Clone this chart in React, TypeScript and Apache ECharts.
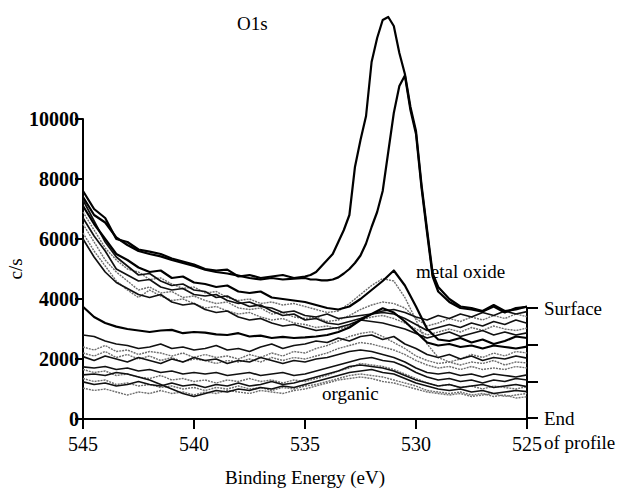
import React, { useEffect, useRef } from 'react';
import * as echarts from 'echarts';

// Binding energies (eV) shared by most spectra, 0.5 eV steps
const energy = [
  545, 544.5, 544, 543.5, 543, 542.5, 542, 541.5, 541, 540.5,
  540, 539.5, 539, 538.5, 538, 537.5, 537, 536.5, 536, 535.5,
  535, 534.5, 534, 533.5, 533, 532.5, 532, 531.5, 531, 530.5,
  530, 529.5, 529, 528.5, 528, 527.5, 527, 526.5, 526, 525.5,
  525,
];

// Finer energy grid for the two surface spectra (sharp metal-oxide peaks)
const surfaceEnergy = [
  545, 544.5, 544, 543.5, 543, 542.5, 542, 541.5, 541, 540.5,
  540, 539.5, 539, 538.5, 538, 537.5, 537, 536.5, 536, 535.5,
  535,
  534.75, 534.5, 534.25, 534, 533.75, 533.5, 533.25, 533, 532.75,
  532.5, 532.25, 532, 531.75, 531.5, 531.25, 531, 530.75, 530.5, 530.25,
  530, 529.75, 529.5, 529.25, 529,
  528.5, 528, 527.5, 527, 526.5, 526, 525.5, 525,
];

const surface1 = [
  7600, 7000, 6700, 6000, 5900, 5650, 5580, 5500, 5350, 5250,
  5150, 5000, 4950, 4980, 4750, 4800, 4700, 4750, 4800, 4700,
  4750,
  4800, 4900, 5100, 5300, 5500, 5900, 6300, 6800, 8400,
  9300, 10100, 11900, 12700, 13300, 13400, 13100, 12200, 11500, 10400,
  9600, 7800, 6300, 4850, 4400,
  4000, 3750, 3700, 3600, 3800, 3600, 3650, 3750,
];

const surface2 = [
  7400, 6800, 6550, 6050, 5800, 5600, 5500, 5420, 5300, 5200,
  5100, 4980, 4900, 4850, 4780, 4700, 4650, 4700, 4650, 4680,
  4700,
  4650, 4650, 4620, 4620, 4650, 4720, 4850, 5000, 5200,
  5450, 5850, 6400, 6900, 7600, 8900, 10200, 11100, 11450, 10300,
  9500, 7700, 6200, 4750, 4250,
  3900, 3700, 3650, 3580, 3750, 3550, 3700, 3740,
];

// Upper group (early sputter steps)
const upper1 = [
  7100, 6500, 6000, 5500, 5300, 5050, 4900, 4950, 4700, 4750,
  4550, 4500, 4400, 4450, 4250, 4200, 4250, 4050, 4000, 3950,
  3900, 3800, 3700, 3650, 3750, 4000, 4300, 4600, 4950, 4450,
  3750, 3000, 2650, 2600, 2700, 2550, 2650, 2500, 2600, 2750,
  2700,
];
const upper2 = [
  6900, 6300, 5700, 5300, 5000, 4900, 4650, 4700, 4500, 4350,
  4400, 4200, 4250, 4050, 3950, 4000, 3850, 3900, 3800, 3850,
  3750, 3650, 3550, 3600, 3850, 4150, 4450, 4680, 4600, 4050,
  3300, 2500, 2050, 1900, 2000, 2150, 2050, 2200, 2100, 2250,
  2200,
];
const upper3 = [
  6700, 6100, 5600, 5000, 4800, 4600, 4650, 4400, 4300, 4350,
  4150, 4100, 4150, 3950, 3850, 3900, 3750, 3700, 3550, 3600,
  3450, 3400, 3500, 3350, 3400, 3450, 3500, 3600, 3650, 3550,
  3400, 3300, 3450, 3350, 3500, 3400, 3550, 3450, 3600, 3500,
  3580,
];
const upper4 = [
  6500, 5900, 5300, 4900, 4600, 4300, 4400, 4200, 4250, 4050,
  4100, 3950, 3850, 3900, 3700, 3650, 3700, 3500, 3550, 3400,
  3350, 3400, 3250, 3300, 3450, 3650, 3800, 3900, 3850, 3700,
  3350, 3100, 3200, 3350, 3250, 3400, 3300, 3450, 3350, 3500,
  3410,
];
const upper5 = [
  7300, 6600, 5900, 5400, 5100, 4800, 4850, 4600, 4450, 4500,
  4300, 4250, 4050, 4100, 3900, 3750, 3800, 3600, 3450, 3500,
  3300, 3350, 3200, 3150, 3250, 3350, 3500, 3550, 3500, 3350,
  3150, 2950, 3050, 3150, 3050, 3200, 3100, 3250, 3150, 3300,
  3190,
];
const upper6 = [
  6200, 5600, 5100, 4600, 4300, 4050, 4300, 4100, 3950, 4000,
  3850, 3700, 3750, 3600, 3500, 3550, 3400, 3300, 3350, 3200,
  3150, 3050, 3100, 3000, 3100, 3300, 3400, 3450, 3350, 3200,
  3000, 2800, 2900, 3000, 2900, 3050, 2950, 3100, 3000, 2950,
  3030,
];
const upper7 = [
  6000, 5400, 4900, 4550, 4350, 4150, 4050, 4150, 3900, 3800,
  3850, 3650, 3550, 3600, 3400, 3300, 3350, 3200, 3100, 3150,
  3050, 2950, 3000, 3050, 3150, 3300, 3250, 3200, 3100, 3000,
  2850, 2700, 2800, 2900, 2750, 2850, 2950, 2800, 2900, 2800,
  2870,
];

// Lower group (deeper sputter steps, organic component)
const lower1 = [
  3740, 3400, 3200, 3080, 3000, 2950, 2900, 2950, 2970, 2860,
  2900, 2880, 2820, 2800, 2860, 2750, 2780, 2700, 2740, 2700,
  2720, 2750, 2800, 2900, 3050, 3300, 3500, 3690, 3550, 3250,
  2900, 2550, 2450, 2500, 2400, 2450, 2350, 2450, 2400, 2350,
  2410,
];
const lower2 = [
  2800, 2750, 2600, 2500, 2450, 2350, 2400, 2500, 2350, 2400,
  2300, 2350, 2450, 2300, 2350, 2250, 2400, 2500, 2350, 2450,
  2500, 2600, 2550, 2700, 2600, 2750, 2800, 2650, 2750, 2500,
  2350, 2150, 2050, 2150, 2000, 2100, 1950, 2050, 2000, 2100,
  2030,
];
const lower3 = [
  2400, 2300, 2450, 2250, 2300, 2150, 2250, 2200, 2100, 2200,
  2050, 2150, 2050, 2100, 2000, 2150, 2050, 2200, 2100, 2250,
  2200, 2350, 2450, 2600, 2750, 2850, 2910, 2750, 2550, 2350,
  2100, 1950, 1850, 1900, 1800, 1900, 1850, 1950, 1800, 1900,
  1870,
];
const lower4 = [
  2200, 2100, 2250, 2050, 2150, 2000, 2100, 1950, 2050, 1900,
  2000, 1950, 1850, 1950, 1900, 2000, 1900, 2050, 1950, 2050,
  2000, 2100, 2200, 2350, 2450, 2550, 2500, 2400, 2300, 2150,
  1950, 1800, 1700, 1750, 1650, 1750, 1650, 1700, 1650, 1750,
  1700,
];
const lower5 = [
  2080, 1950, 2100, 2000, 1900, 2050, 1950, 1850, 2000, 1900,
  2050, 1950, 2000, 1850, 1950, 1900, 2050, 1950, 1850, 1950,
  1900, 2000, 2050, 2150, 2250, 2300, 2250, 2150, 2050, 1900,
  1700, 1550, 1500, 1550, 1450, 1500, 1400, 1500, 1450, 1400,
  1470,
];
const lower6 = [
  1740, 1700, 1750, 1650, 1700, 1600, 1650, 1550, 1600, 1500,
  1550, 1500, 1550, 1450, 1500, 1550, 1450, 1500, 1550, 1450,
  1500, 1600, 1700, 1800, 1900, 2000, 2050, 1950, 1900, 1750,
  1550, 1400, 1300, 1350, 1250, 1300, 1200, 1300, 1250, 1350,
  1300,
];
const lower7 = [
  1650, 1550, 1600, 1450, 1500, 1400, 1350, 1450, 1300, 1350,
  1250, 1300, 1200, 1300, 1250, 1350, 1250, 1300, 1200, 1300,
  1250, 1350, 1450, 1600, 1700, 1850, 1800, 1750, 1650, 1500,
  1350, 1200, 1100, 1150, 1050, 1100, 1000, 1100, 1050, 1000,
  1080,
];
const lower8 = [
  1470, 1500, 1450, 1550, 1500, 1400, 1300, 1150, 1000, 850,
  750, 850, 950, 900, 1000, 950, 1050, 1000, 1100, 1050,
  1150, 1250, 1350, 1450, 1550, 1600, 1650, 1550, 1500, 1350,
  1200, 1100, 1000, 950, 1000, 900, 950, 850, 900, 950,
  910,
];
const lower9 = [
  1350, 1250, 1300, 1150, 1200, 1100, 1150, 1050, 1100, 1000,
  1050, 950, 1050, 1000, 1100, 1000, 1050, 950, 1050, 1000,
  1100, 1150, 1250, 1350, 1450, 1500, 1450, 1400, 1300, 1200,
  1100, 950, 900, 850, 900, 800, 850, 750, 800, 700,
  740,
];
const lower10 = [
  1240, 1150, 1200, 1100, 1150, 1250, 1150, 1100, 1200, 1100,
  1150, 1050, 1150, 1100, 1200, 1100, 1150, 1250, 1150, 1200,
  1300, 1400, 1500, 1600, 1750, 1800, 1750, 1700, 1600, 1450,
  1300, 1200, 1100, 1150, 1050, 1100, 1150, 1050, 1100, 1150,
  1080,
];
const lower11 = [
  1030, 950, 1000, 900, 800, 900, 850, 950, 850, 900,
  800, 900, 850, 950, 900, 850, 950, 900, 850, 950,
  1000, 1100, 1200, 1300, 1350, 1400, 1350, 1250, 1200, 1100,
  1000, 900, 850, 800, 850, 750, 800, 850, 750, 800,
  850,
];

const yTicks = [0, 2000, 4000, 6000, 8000, 10000];
const depthLabels = ['End', '', '', 'Surface'];

type Def = { name: string; x: number[]; y: number[]; tone: 'black' | 'gray' | 'heavy' };

const defs: Def[] = [
  { name: 'lower11', x: energy, y: lower11, tone: 'gray' },
  { name: 'lower9', x: energy, y: lower9, tone: 'gray' },
  { name: 'lower7', x: energy, y: lower7, tone: 'gray' },
  { name: 'lower4', x: energy, y: lower4, tone: 'gray' },
  { name: 'lower3', x: energy, y: lower3, tone: 'gray' },
  { name: 'upper6', x: energy, y: upper6, tone: 'gray' },
  { name: 'upper4', x: energy, y: upper4, tone: 'gray' },
  { name: 'upper2', x: energy, y: upper2, tone: 'gray' },
  { name: 'lower10', x: energy, y: lower10, tone: 'black' },
  { name: 'lower8', x: energy, y: lower8, tone: 'black' },
  { name: 'lower6', x: energy, y: lower6, tone: 'black' },
  { name: 'lower5', x: energy, y: lower5, tone: 'black' },
  { name: 'lower2', x: energy, y: lower2, tone: 'black' },
  { name: 'lower1', x: energy, y: lower1, tone: 'heavy' },
  { name: 'upper7', x: energy, y: upper7, tone: 'black' },
  { name: 'upper5', x: energy, y: upper5, tone: 'black' },
  { name: 'upper3', x: energy, y: upper3, tone: 'black' },
  { name: 'upper1', x: energy, y: upper1, tone: 'heavy' },
  { name: 'surface2', x: surfaceEnergy, y: surface2, tone: 'heavy' },
  { name: 'surface1', x: surfaceEnergy, y: surface1, tone: 'heavy' },
];

const toneStyle: Record<string, { color: string; width: number; z: number; type: any }> = {
  gray: { color: '#6e6e6e', width: 1.4, z: 2, type: [2, 1] },
  black: { color: '#111111', width: 1.7, z: 3, type: 'solid' },
  heavy: { color: '#000000', width: 2.2, z: 4, type: 'solid' },
};

const FONT = 'Liberation Serif';

export default function App() {
  const ref = useRef<HTMLDivElement>(null);

  useEffect(() => {
    if (!ref.current) return;
    const chart = echarts.init(ref.current, undefined, { renderer: 'svg' });
    const axisColor = '#000';
    const option: any = {
      animation: false,
      backgroundColor: '#ffffff',
      title: {
        text: 'O1s',
        left: 232,
        top: 9,
        textStyle: { fontFamily: FONT, fontSize: 19, fontWeight: 'normal', color: '#000' },
      },
      grid: [
        { left: 83, right: 102, top: 119, bottom: 72, containLabel: false, outerBoundsMode: 'none' },
        { left: 83, right: 102, top: 308, bottom: 73, containLabel: false, outerBoundsMode: 'none' },
      ],
      xAxis: [
        {
          type: 'value',
          gridIndex: 0,
          min: 525,
          max: 545,
          interval: 5,
          inverse: true,
          name: 'Binding Energy (eV)',
          nameLocation: 'middle',
          nameGap: 49,
          nameMoveOverlap: false,
          nameTextStyle: { fontFamily: FONT, fontSize: 19, color: '#000' },
          axisLine: { show: true, onZero: false, lineStyle: { color: axisColor, width: 2 } },
          axisTick: { show: true, inside: false, length: 10, lineStyle: { color: axisColor, width: 2 } },
          axisLabel: { margin: 15, fontFamily: FONT, fontSize: 20, color: '#000' },
          splitLine: { show: false },
        },
        { type: 'value', gridIndex: 1, min: 525, max: 545, inverse: true, show: false },
      ],
      yAxis: [
        {
          type: 'value',
          gridIndex: 0,
          min: 0,
          max: 10000,
          interval: 2000,
          name: 'c/s',
          nameLocation: 'middle',
          nameGap: 58,
          nameRotate: 90,
          nameMoveOverlap: false,
          nameTextStyle: { fontFamily: FONT, fontSize: 19, color: '#000' },
          axisLine: { show: true, onZero: false, lineStyle: { color: axisColor, width: 2 } },
          axisTick: { show: true, inside: false, length: 8, lineStyle: { color: axisColor, width: 2 } },
          axisLabel: {
            margin: 4,
            fontFamily: FONT,
            fontSize: 20,
            fontWeight: 'bold',
            color: '#000',
            formatter: (v: number) => (yTicks.includes(v) ? String(v) : ''),
          },
          splitLine: { show: false },
        },
        {
          type: 'value',
          gridIndex: 1,
          position: 'right',
          min: 0,
          max: 3,
          interval: 1,
          axisLine: { show: true, onZero: false, lineStyle: { color: axisColor, width: 2 } },
          axisTick: { show: true, inside: false, length: 11, lineStyle: { color: axisColor, width: 2 } },
          axisLabel: {
            margin: 17,
            fontFamily: FONT,
            fontSize: 19,
            color: '#000',
            formatter: (v: number) => {
              const t = depthLabels[v] || '';
              if (v === 0) return '{gap| }\n{t|' + t + '}\n{t|of profile}';
              return t;
            },
            rich: {
              gap: { fontFamily: FONT, fontSize: 19, lineHeight: 24, color: '#000' },
              t: { fontFamily: FONT, fontSize: 19, lineHeight: 24, color: '#000' },
            },
          },
          splitLine: { show: false },
        },
      ],
      graphic: [
        {
          type: 'text',
          left: 416,
          top: 262,
          style: { text: 'metal oxide', fontFamily: FONT, fontSize: 19, fill: '#000' },
          z: 10,
        },
        {
          type: 'text',
          left: 322,
          top: 384,
          style: { text: 'organic', fontFamily: FONT, fontSize: 19, fill: '#000' },
          z: 10,
        },
      ],
      series: defs.map((d) => {
        const s = toneStyle[d.tone];
        return {
          type: 'line',
          name: d.name,
          xAxisIndex: 0,
          yAxisIndex: 0,
          data: d.y.map((v, i) => [d.x[i], v]),
          showSymbol: false,
          symbol: 'none',
          clip: false,
          silent: true,
          z: s.z,
          lineStyle: { color: s.color, width: s.width, type: s.type, join: 'round' },
        };
      }),
    };
    chart.setOption(option);
    return () => chart.dispose();
  }, []);

  return (
    <div
      ref={ref}
      style={{ position: 'fixed', left: 0, top: 0, width: 629, height: 491, background: '#fff' }}
    />
  );
}
